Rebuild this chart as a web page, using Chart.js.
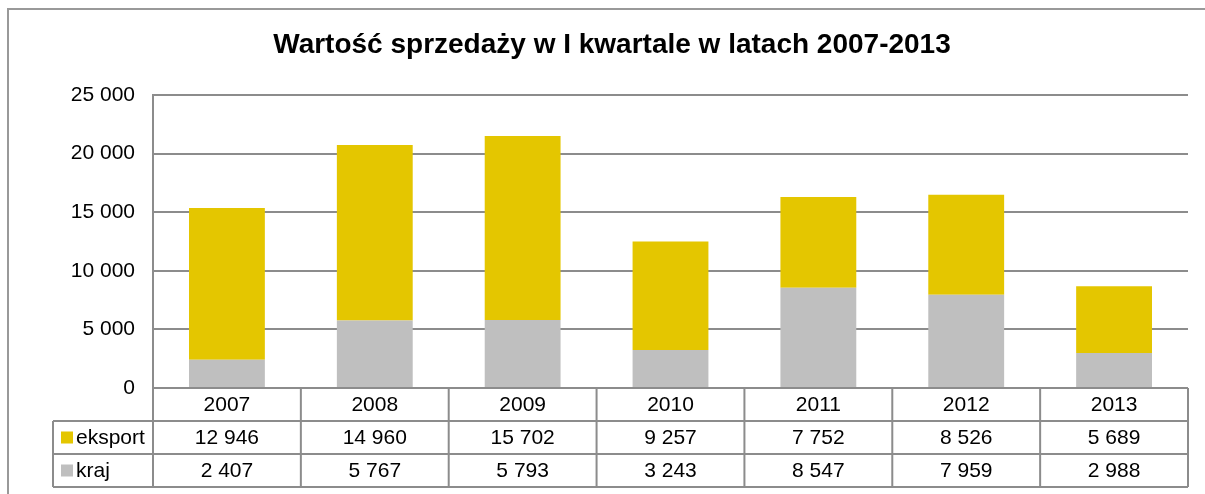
<!DOCTYPE html>
<html>
<head>
<meta charset="utf-8">
<script src="https://cdn.jsdelivr.net/npm/chart.js@4/dist/chart.umd.min.js"></script>
<style>
  html, body { margin: 0; padding: 0; background: #fff; }
  #wrap { width: 1205px; height: 494px; }
</style>
</head>
<body>
<div id="wrap"><canvas id="sales"></canvas></div>
<script>
// dane z tabeli pod wykresem
var years = ['2007', '2008', '2009', '2010', '2011', '2012', '2013'];
var eksport = [12946, 14960, 15702, 9257, 7752, 8526, 5689];
var kraj = [2407, 5767, 5793, 3243, 8547, 7959, 2988];
var yTicks = [0, 5000, 10000, 15000, 20000, 25000];

var YELLOW = '#e4c600';
var GREY = '#bfbfbf';
var LINE = '#8c8c8c';
var FONT = '"Liberation Sans", Arial, sans-serif';

function fmt(v) {
    return String(v).replace(/\B(?=(\d{3})+(?!\d))/g, ' ');
}

// ramka wokol calego wykresu
var framePlugin = {
    id: 'frame',
    beforeDraw: function (chart) {
        var ctx = chart.ctx;
        ctx.save();
        ctx.strokeStyle = '#999999';
        ctx.lineWidth = 2;
        ctx.strokeRect(8, 9, chart.width + 20, chart.height + 20);
        ctx.restore();
    }
};

// tabela danych pod osia X (jak w Excelu)
var tablePlugin = {
    id: 'dataTable',
    afterDraw: function (chart) {
        var ctx = chart.ctx;
        var area = chart.chartArea;
        var x = chart.scales.x;
        var rowH = 33;
        var top = area.bottom;
        var legendLeft = area.left - 100;
        var half = (x.getPixelForValue(1) - x.getPixelForValue(0)) / 2;
        var rows = [
            { label: 'eksport', color: YELLOW, values: eksport },
            { label: 'kraj', color: GREY, values: kraj }
        ];

        ctx.save();
        ctx.strokeStyle = LINE;
        ctx.lineWidth = 2;
        ctx.beginPath();
        // pionowe linie
        for (var i = 0; i <= years.length; i++) {
            var vx = i < years.length ? x.getPixelForValue(i) - half : x.getPixelForValue(years.length - 1) + half;
            ctx.moveTo(vx, top);
            ctx.lineTo(vx, top + rowH * 3);
        }
        ctx.moveTo(legendLeft, top + rowH);
        ctx.lineTo(legendLeft, top + rowH * 3);
        // poziome linie
        for (var r = 1; r <= 3; r++) {
            ctx.moveTo(legendLeft, top + rowH * r);
            ctx.lineTo(area.right, top + rowH * r);
        }
        ctx.stroke();

        ctx.fillStyle = '#000';
        ctx.font = '21px ' + FONT;
        ctx.textBaseline = 'middle';
        ctx.textAlign = 'center';
        years.forEach(function (y, i) {
            ctx.fillText(y, x.getPixelForValue(i), top + rowH / 2 + 1);
        });
        rows.forEach(function (row, r) {
            var cy = top + rowH * (r + 1.5) + 1;
            ctx.textAlign = 'center';
            ctx.fillStyle = '#000';
            row.values.forEach(function (v, i) {
                ctx.fillText(fmt(v), x.getPixelForValue(i), cy);
            });
            ctx.fillStyle = row.color;
            ctx.fillRect(legendLeft + 8, cy - 7, 12, 12);
            ctx.fillStyle = '#000';
            ctx.textAlign = 'left';
            ctx.fillText(row.label, legendLeft + 23, cy);
        });
        ctx.restore();
    }
};

new Chart(document.getElementById('sales'), {
    type: 'bar',
    data: {
        labels: years,
        datasets: [
            { label: 'kraj', data: kraj, backgroundColor: GREY },
            { label: 'eksport', data: eksport, backgroundColor: YELLOW }
        ]
    },
    options: {
        responsive: true,
        maintainAspectRatio: false,
        animation: false,
        events: [],
        datasets: {
            bar: { categoryPercentage: 0.513, barPercentage: 1 }
        },
        layout: { padding: { left: 36, right: 17, top: 0, bottom: 106 } },
        plugins: {
            legend: { display: false },
            tooltip: { enabled: false },
            title: {
                display: true,
                text: 'Wartość sprzedaży w I kwartale w latach 2007-2013',
                color: '#000',
                font: { family: FONT, size: 28, weight: 'bold', lineHeight: 1.2 },
                padding: { top: 28, bottom: 33.4 }
            }
        },
        scales: {
            x: {
                stacked: true,
                display: false
            },
            y: {
                stacked: true,
                min: 0,
                max: 25000,
                afterBuildTicks: function (scale) {
                    scale.ticks = yTicks.map(function (v) { return { value: v }; });
                },
                afterFit: function (scale) { scale.width = 117; },
                ticks: {
                    color: '#000',
                    padding: 18,
                    font: { family: FONT, size: 21 },
                    callback: function (v) { return fmt(v); }
                },
                grid: { color: LINE, lineWidth: 2, drawTicks: false },
                border: { display: true, color: LINE, width: 2 }
            }
        }
    },
    plugins: [framePlugin, tablePlugin]
});
</script>
</body>
</html>
